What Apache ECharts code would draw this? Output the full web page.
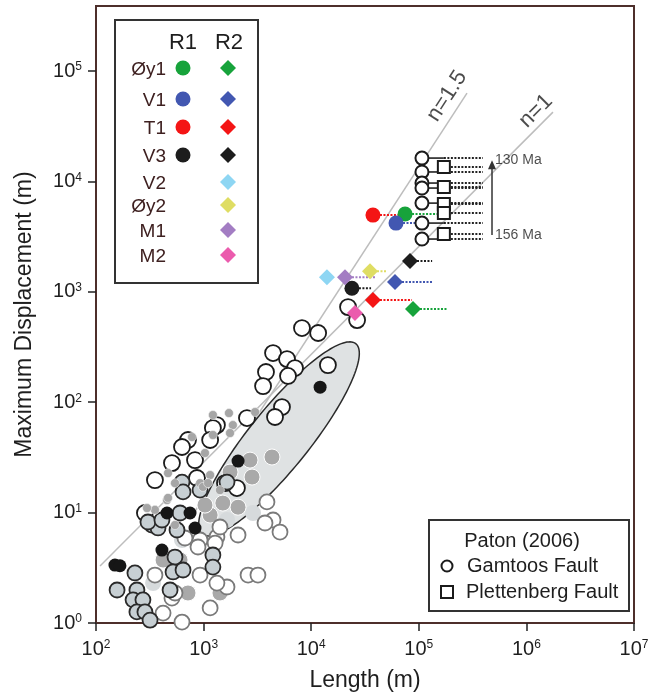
<!DOCTYPE html>
<html>
<head>
<meta charset="utf-8">
<script src="https://cdn.jsdelivr.net/npm/echarts@6/dist/echarts.min.js"></script>
<style>
  html, body { margin: 0; padding: 0; background: #fff; }
  #chart { width: 655px; height: 698px; }
</style>
</head>
<body>
<div id="chart"></div>
<script>
// Fault length (m) against maximum displacement (m), log-log.

// Literature compilation, [length, displacement]
const openDark = [[8210,470],[11600,424],[4420,279],[5960,246],[7070,204],[3800,188],[6090,173],[3570,140],[14300,217],[5350,90.5],[4610,73.5],[2530,71.9],[1330,62.1],[1220,58.4],[716,45.5],[630,39.3],[508,28.1],[832,29.9],[353,19.7],[868,20.6],[2040,16.7],[1580,18.5],[1150,45.5],[285,9.92],[22000,728],[26700,555]];
const lightFilled = [[630,18.9],[644,15.4],[927,16.0],[1650,18.9],[331,7.72],[377,7.26],[304,8.22],[566,6.96],[542,3.96],[520,2.90],[644,3.02],[1220,4.13],[1220,3.21],[230,2.84],[157,1.99],[240,1.99],[488,1.99],[221,1.62],[273,1.62],[240,1.26],[285,1.26],[318,1.06],[410,8.57],[604,9.92]];
const blackFilled = [[12100,137],[2090,29.3],[457,9.92],[748,9.92],[832,7.26],[410,4.58],[150,3.35],[167,3.3]];
const grayLarge = [[4320,31.9],[2700,29.9],[2820,21.0],[1760,23.3],[1510,12.2],[2090,11.2],[1150,9.51],[520,3.88],[716,1.87],[1420,1.87],[420,3.72],[604,3.72],[1030,11.7]];
const graySmall = [[1220,76.6],[1720,79.8],[1870,62.1],[3010,81.5],[1760,52.6],[1220,50.5],[1030,34.7],[780,48.4],[467,22.8],[542,18.5],[927,18.5],[1150,21.9],[986,17.1],[1420,16.0],[353,10.6],[298,11.0],[457,13.0],[542,7.72],[467,13.6],[1100,18.5]];
const openGray = [[927,5.65],[1330,6.01],[2090,6.27],[3880,12.5],[4420,8.57],[5130,6.67],[671,5.89],[927,2.72],[1650,2.12],[1150,1.37],[630,1.02],[2590,2.72],[3200,2.72],[1420,7.41],[508,1.68],[353,2.72],[887,4.88],[1280,5.30],[542,1.87],[420,1.23],[1330,2.30],[3720,8.05]];
const lightLarge = [[339,2.30],[2880,9.92],[1650,8.57],[630,5.65]];

// Mapped units, R1 and R2 estimates; *LengthMax is the upper bound of length
const units = ['Øy1','V1','T1','V3','V2','Øy2','M1','M2'];
const unitColors = ['#17a33b','#4257b1','#f41515','#1d1d1d','#8ed6f3','#dfdd63','#a37dc3','#eb5bad'];
const r1Length = [74500, 61400, 37500, 23900];
const r1Disp = [5070, 4200, 4960, 1080];
const r1LengthMax = [151000, 109000, 66800, 36000];
const r2Length = [88300, 60100, 37500, 82800, 14000, 35200, 20600, 25500];
const r2Disp = [699, 1230, 843, 1900, 1360, 1540, 1360, 643];
const r2LengthMax = [183000, 136000, 86500, 133000, null, 50600, 39200, null];

// Paton (2006)
const gamtoosLength = 107000;
const gamtoosDisp = [16300, 12200, 9680, 8720, 6370, 4200, 3010];
const plettenbergLength = 171000;
const plettenbergDisp = [13500, 8900, 6240, 5180, 3340];
const lengthUpper = 395000;
const ageArrowLength = 479000;
const ageArrowDisp = [3270, 15600];
const ageLabels = ['156 Ma', '130 Ma'];

// Scaling reference lines D = c L^n
const n15Line = [[748, 8.75], [280500, 63200]];
const n1Line = [[109, 3.28], [1766000, 42500]];
const lineLabels = [{ name: 'n=1.5', at: [183000, 59400], rotate: 57 }, { name: 'n=1', at: [1227000, 43400], rotate: 45 }];

// Envelope: centre [L, D], half-axes in decades, tilt in degrees (log space)
const envelopeCenter = [5020, 46.5];
const envelopeAxes = [1.12, 0.277];
const envelopeTilt = 50.3;

const FONT = '"Liberation Sans", Arial, Helvetica, sans-serif';
const FRAME = '#4d2f2b';
const INK = '#1e1e1e';

function powLabel(v) {
  const e = Math.log10(v), r = Math.round(e);
  if (Math.abs(e - r) > 1e-6) return '';
  return '{b|10}{s|' + r + '}';
}
const tickRich = {
  b: { fontSize: 20, fontFamily: FONT, color: INK },
  s: { fontSize: 12, fontFamily: FONT, color: INK, verticalAlign: 'top' }
};

// error / connector segments: [L0, L1, D]
const dotted = [], solid = [];
r1Length.forEach((L, i) => { if (r1LengthMax[i]) dotted.push({ value: [L, r1LengthMax[i], r1Disp[i]], itemStyle: { color: unitColors[i] } }); });
r2Length.forEach((L, i) => { if (r2LengthMax[i]) dotted.push({ value: [L, r2LengthMax[i], r2Disp[i]], itemStyle: { color: unitColors[i] } }); });
gamtoosDisp.forEach(D => {
  solid.push([gamtoosLength, plettenbergLength, D]);
  dotted.push({ value: [plettenbergLength, lengthUpper, D], itemStyle: { color: '#222' } });
});
plettenbergDisp.forEach(D => dotted.push({ value: [plettenbergLength, lengthUpper, D], itemStyle: { color: '#222' } }));

function segmentRenderer(width, dash) {
  return function (params, api) {
    const a = api.coord([api.value(0), api.value(2)]);
    const b = api.coord([api.value(1), api.value(2)]);
    return { type: 'line', shape: { x1: a[0], y1: a[1], x2: b[0], y2: b[1] },
             style: { stroke: api.visual('color'), lineWidth: width, lineDash: dash } };
  };
}

function cluster(name, data, size, fill, stroke, bw, z) {
  return { name, type: 'scatter', data, symbol: 'circle', symbolSize: size, z,
           itemStyle: { color: fill, borderColor: stroke, borderWidth: bw, opacity: 1 } };
}

const series = [
  { type: 'line', data: n15Line, showSymbol: false, z: 1, lineStyle: { color: '#bdbdbd', width: 1.5 } },
  { type: 'line', data: n1Line, showSymbol: false, z: 1, lineStyle: { color: '#bdbdbd', width: 1.5 } },
  {
    type: 'custom', z: 2, data: [envelopeCenter],
    renderItem(params, api) {
      const cx = Math.log10(envelopeCenter[0]), cy = Math.log10(envelopeCenter[1]);
      const th = envelopeTilt * Math.PI / 180, pts = [];
      for (let i = 0; i < 160; i++) {
        const t = i / 160 * 2 * Math.PI;
        const u = envelopeAxes[0] * Math.cos(t), v = envelopeAxes[1] * Math.sin(t);
        const lx = cx + u * Math.cos(th) - v * Math.sin(th);
        const ly = cy + u * Math.sin(th) + v * Math.cos(th);
        pts.push(api.coord([Math.pow(10, lx), Math.pow(10, ly)]));
      }
      return { type: 'polygon', shape: { points: pts }, style: { fill: '#dfe2e3', stroke: '#2b2b2b', lineWidth: 1.5 } };
    }
  },
  cluster('lightLarge', lightLarge, 16, '#d6dadc', '#d6dadc', 0, 3),
  cluster('grayLarge', grayLarge, 16, '#a9a9a9', '#ffffff', 1, 3),
  cluster('openGray', openGray, 15, '#ffffff', '#7a7a7a', 1.8, 3),
  cluster('openDark', openDark, 16, '#ffffff', '#1b1b1b', 1.8, 3),
  cluster('lightFilled', lightFilled, 15, '#c7cfd3', '#2a2a2a', 1.8, 3),
  cluster('graySmall', graySmall, 9, '#a6a6a6', '#ffffff', 0.5, 3),
  cluster('blackFilled', blackFilled, 13, '#161616', '#161616', 0, 3),
  { type: 'custom', z: 4, data: solid, encode: { x: [0, 1], y: 2 }, itemStyle: { color: '#222' }, renderItem: segmentRenderer(1.6, null) },
  { type: 'custom', z: 4, data: dotted, encode: { x: [0, 1], y: 2 }, renderItem: segmentRenderer(2, [2, 1.5]) },
  {
    type: 'scatter', z: 5, symbol: 'circle', symbolSize: 15, itemStyle: { opacity: 1 },
    data: r1Length.map((L, i) => ({ value: [L, r1Disp[i]], itemStyle: { color: unitColors[i], opacity: 1 } }))
  },
  {
    type: 'scatter', z: 5, symbol: 'diamond', symbolSize: 16, itemStyle: { opacity: 1 },
    data: r2Length.map((L, i) => ({ value: [L, r2Disp[i]], itemStyle: { color: unitColors[i], opacity: 1 } }))
  },
  {
    type: 'scatter', z: 5, symbol: 'circle', symbolSize: 13,
    itemStyle: { color: '#fff', borderColor: '#1b1b1b', borderWidth: 2, opacity: 1 },
    data: gamtoosDisp.map(D => [gamtoosLength, D])
  },
  {
    type: 'scatter', z: 5, symbol: 'rect', symbolSize: 12,
    itemStyle: { color: '#fff', borderColor: '#1b1b1b', borderWidth: 2, opacity: 1 },
    data: plettenbergDisp.map(D => [plettenbergLength, D])
  },
  {
    type: 'custom', z: 5, data: [[ageArrowLength, ageArrowDisp[0], ageArrowDisp[1]]], encode: { x: 0, y: [1, 2] },
    renderItem(params, api) {
      const a = api.coord([api.value(0), api.value(1)]);
      const b = api.coord([api.value(0), api.value(2)]);
      return { type: 'group', children: [
        { type: 'line', shape: { x1: a[0], y1: a[1], x2: b[0], y2: b[1] + 6 }, style: { stroke: '#333', lineWidth: 1.5 } },
        { type: 'polygon', shape: { points: [[b[0], b[1]], [b[0] - 4, b[1] + 9], [b[0] + 4, b[1] + 9]] }, style: { fill: '#333' } }
      ] };
    }
  },
  {
    type: 'scatter', z: 6, symbolSize: 0,
    data: ageLabels.map((t, i) => ({ name: t, value: [ageArrowLength, ageArrowDisp[i]] })),
    label: { show: true, position: 'right', distance: 3, formatter: '{b}', fontSize: 14, fontFamily: FONT, color: INK }
  },
  {
    type: 'scatter', z: 6, symbolSize: 0,
    data: lineLabels.map(d => ({ name: d.name, value: d.at, label: { rotate: d.rotate } })),
    label: { show: true, position: 'inside', formatter: '{b}', fontSize: 22, fontFamily: FONT, color: INK }
  }
];

// legend panels
const legendRows = [68, 99, 127, 155, 182, 205, 230, 255];
const graphics = [
  { type: 'rect', z: 100, shape: { x: 115, y: 20, width: 143, height: 263 }, style: { fill: '#fff', stroke: '#333', lineWidth: 2 } },
  { type: 'text', z: 101, x: 183, y: 43, style: { text: 'R1', fontSize: 22, fontFamily: FONT, fill: INK, align: 'center', verticalAlign: 'middle' } },
  { type: 'text', z: 101, x: 229, y: 43, style: { text: 'R2', fontSize: 22, fontFamily: FONT, fill: INK, align: 'center', verticalAlign: 'middle' } }
];
units.forEach((u, i) => {
  const y = legendRows[i];
  graphics.push({ type: 'text', z: 101, x: 166, y: y + 2, style: { text: u, fontSize: 19, fontFamily: FONT, fill: '#3e2020', align: 'right', verticalAlign: 'middle' } });
  if (i < r1Length.length) graphics.push({ type: 'circle', z: 101, shape: { cx: 183, cy: y, r: 7.5 }, style: { fill: unitColors[i] } });
  graphics.push({ type: 'polygon', z: 101, shape: { points: [[228, y - 8], [236, y], [228, y + 8], [220, y]] }, style: { fill: unitColors[i] } });
});
graphics.push(
  { type: 'rect', z: 100, shape: { x: 429, y: 520, width: 200, height: 91 }, style: { fill: '#fff', stroke: '#333', lineWidth: 2 } },
  { type: 'text', z: 101, x: 522, y: 541, style: { text: 'Paton (2006)', fontSize: 20, fontFamily: FONT, fill: INK, align: 'center', verticalAlign: 'middle' } },
  { type: 'circle', z: 101, shape: { cx: 447, cy: 566, r: 5.5 }, style: { fill: '#fff', stroke: '#1b1b1b', lineWidth: 2 } },
  { type: 'text', z: 101, x: 467, y: 566, style: { text: 'Gamtoos Fault', fontSize: 20, fontFamily: FONT, fill: INK, align: 'left', verticalAlign: 'middle' } },
  { type: 'rect', z: 101, shape: { x: 441, y: 586, width: 12, height: 12 }, style: { fill: '#fff', stroke: '#1b1b1b', lineWidth: 2 } },
  { type: 'text', z: 101, x: 466, y: 592, style: { text: 'Plettenberg Fault', fontSize: 20, fontFamily: FONT, fill: INK, align: 'left', verticalAlign: 'middle' } }
);

const chart = echarts.init(document.getElementById('chart'));
chart.setOption({
  animation: false,
  backgroundColor: '#fff',
  grid: { left: 96, right: 21, top: 6, bottom: 75, show: true, borderColor: FRAME, borderWidth: 2, backgroundColor: '#fff' },
  xAxis: {
    type: 'log', logBase: 10, min: 100, max: 1e7,
    name: 'Length (m)', nameLocation: 'middle', nameGap: 46,
    nameTextStyle: { fontSize: 23, fontFamily: FONT, color: INK },
    axisLine: { show: false },
    axisTick: { show: true, length: 8, lineStyle: { color: '#222', width: 1.5 } },
    axisLabel: { formatter: powLabel, rich: tickRich, margin: 16 },
    splitLine: { show: false }
  },
  yAxis: {
    type: 'log', logBase: 10, min: 1, max: 389000,
    name: 'Maximum Displacement (m)', nameLocation: 'middle', nameGap: 60,
    nameTextStyle: { fontSize: 23, fontFamily: FONT, color: INK },
    axisLine: { show: false },
    axisTick: { show: true, length: 8, lineStyle: { color: '#222', width: 1.5 }, customValues: [1, 10, 100, 1000, 10000, 100000] },
    axisLabel: { formatter: powLabel, rich: tickRich, margin: 14, customValues: [1, 10, 100, 1000, 10000, 100000] },
    splitLine: { show: false }
  },
  series,
  graphic: graphics
});
</script>
</body>
</html>
